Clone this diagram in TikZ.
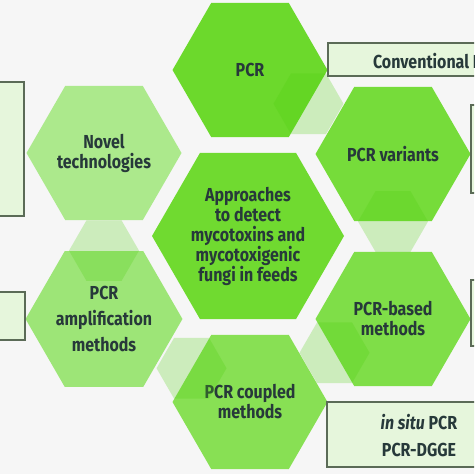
\documentclass[tikz,border=0pt]{standalone}
\usepackage{fontspec}
\setmainfont{Fira Sans}[FakeStretch=0.85]
\usepackage{xcolor}
\usetikzlibrary{shapes.geometric}

\definecolor{bgcol}{HTML}{F6F6F6}
\definecolor{txtcol}{HTML}{27393A}
\definecolor{pcrcol}{HTML}{6CD92C}
\definecolor{corecol}{HTML}{70DA30}
\definecolor{varcol}{HTML}{76DC3A}
\definecolor{basedcol}{HTML}{7FDE48}
\definecolor{coupcol}{HTML}{88E054}
\definecolor{ampcol}{HTML}{9DE577}
\definecolor{novcol}{HTML}{ACE98C}
\definecolor{linkcol}{HTML}{4FCF10}
\definecolor{boxfill}{HTML}{E6F6DC}
\definecolor{boxline}{HTML}{5B6B57}

\tikzset{
  hexa/.style={regular polygon, regular polygon sides=6, inner sep=0pt,
    minimum size=77.5pt, text=txtcol, align=center,
    font=\bfseries\fontsize{9.4}{10}\selectfont},
  core/.style={hexa, minimum size=96pt},
  link/.style={regular polygon, regular polygon sides=6, inner sep=0pt,
    minimum size=35pt, fill=linkcol, fill opacity=0.25},
  infobox/.style={draw=boxline, fill=boxfill, line width=0.6pt},
  boxtext/.style={text=txtcol, align=center,
    font=\bfseries\fontsize{9.4}{13.5}\selectfont}
}

\begin{document}
\begin{tikzpicture}[x=0.5pt,y=-0.5pt]
  \useasboundingbox (0,0) rectangle (474,474);
  \clip (0,0) rectangle (474,474);
  \fill[bgcol] (0,0) rectangle (474,474);

  % Honeycomb
  \node[hexa, fill=pcrcol] (pcr) at (250,70) {PCR};
  \node[hexa, fill=novcol] (novel) at (104,153) {Novel\\technologies};
  \node[hexa, fill=varcol] (variants) at (393,154) {PCR variants};
  \node[core, fill=corecol] (core) at (248,236)
    {Approaches\\to detect\\mycotoxins and\\mycotoxigenic\\fungi in feeds};
  \node[hexa, fill=ampcol, font=\bfseries\fontsize{9.4}{13}\selectfont] (amp)
    at (104,319) {PCR\\amplification\\methods};
  \node[hexa, fill=basedcol] (based) at (393,319) {PCR-based\\methods};
  \node[hexa, fill=coupcol] (coupled) at (250,402) {PCR coupled\\methods};

  % Links between neighbours
  \node[link] (lnk1) at (pcr.-30) {};
  \node[link] (lnk2) at (variants.-90) {};
  \node[link] (lnk3) at (based.210) {};
  \node[link] (lnk4) at (coupled.150) {};
  \node[link] (lnk5) at (amp.90) {};

  % Side boxes
  \draw[infobox] (328,43) rectangle (600,76);
  \node[boxtext, anchor=west] (convtxt) at (366,61) {Conventional PCR};
  \draw[infobox] (-100,82) rectangle (24,216);
  \draw[infobox] (471,105) rectangle (600,193);
  \draw[infobox] (-100,292) rectangle (25,340);
  \draw[infobox] (471,280) rectangle (600,346);
  \draw[infobox] (327,402) rectangle (600,467);
  \node[boxtext] (dgge) at (419,436) {\textit{in situ} PCR\\PCR-DGGE};
\end{tikzpicture}
\end{document}
